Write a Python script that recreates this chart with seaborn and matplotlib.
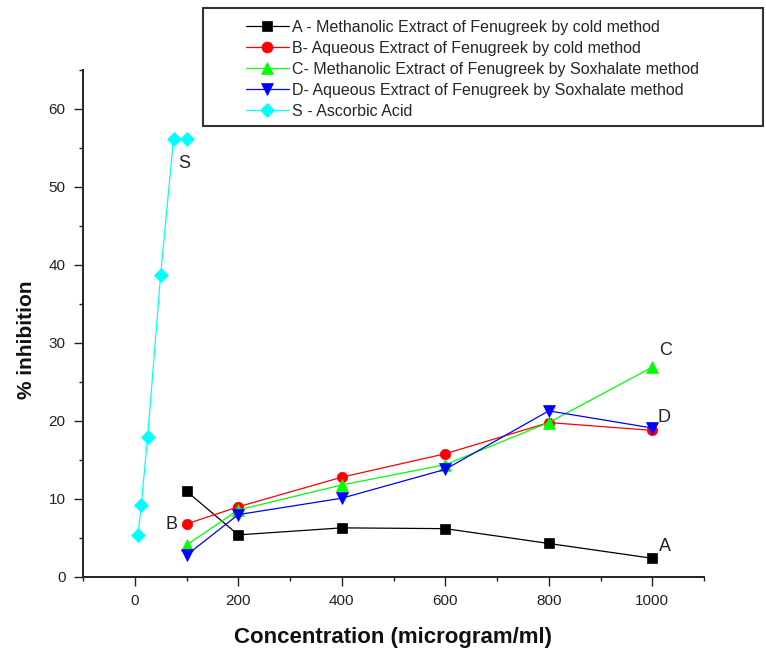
import numpy as np
import pandas as pd
import matplotlib
matplotlib.use("Agg")
import matplotlib.pyplot as plt
from matplotlib.ticker import MultipleLocator
from matplotlib.patches import Rectangle
import seaborn as sns

# % inhibition vs concentration
conc = [100, 200, 400, 600, 800, 1000]
conc_s = [6.25, 12.5, 25, 50, 75, 100]

a_vals = [11.0, 5.4, 6.3, 6.2, 4.3, 2.4]
b_vals = [6.8, 9.0, 12.8, 15.8, 19.8, 18.8]
c_vals = [4.1, 8.6, 11.8, 14.4, 19.8, 26.9]
d_vals = [2.8, 8.0, 10.1, 13.8, 21.3, 19.1]
s_vals = [5.4, 9.2, 18.0, 38.7, 56.2, 56.2]

names = ["A - Methanolic Extract of Fenugreek by cold method",
         "B- Aqueous Extract of Fenugreek by cold method",
         "C- Methanolic Extract of Fenugreek by Soxhalate method",
         "D- Aqueous Extract of Fenugreek by Soxhalate method",
         "S - Ascorbic Acid"]

sns.set_style("ticks")
plt.rcParams['font.family'] = ['Liberation Sans', 'DejaVu Sans']

series = [(conc, a_vals), (conc, b_vals), (conc, c_vals), (conc, d_vals), (conc_s, s_vals)]
colors = ["#000000", "#ff0000", "#00ff00", "#0000ff", "#00ffff"]
markers = ["s", "o", "^", "v", "D"]
msizes = [7, 7.5, 8, 8, 7]

fig = plt.figure(figsize=(7.66, 6.53), dpi=100)
ax = fig.add_axes([83/766, 1-577/653, 621/766, 507/653])

handles = []
for (x, y), col, mk, ms in zip(series, colors, markers, msizes):
    df = pd.DataFrame({"x": x, "y": y})
    sns.lineplot(data=df, x="x", y="y", ax=ax, color=col, marker=mk, markersize=ms,
                 markeredgecolor=col, markeredgewidth=0.5, linewidth=0.9, sort=False)
    handles.append(ax.lines[-1])

# letters next to the curves (offsets in pixels from a data point)
lab_txt = dict(fontsize=13, color="#222222", ha="center", va="baseline",
               textcoords="offset pixels")
ax.annotate("A", (conc[-1], a_vals[-1]), xytext=(13, 7), **lab_txt)
ax.annotate("B", (conc[0], b_vals[0]), xytext=(-15, -5), **lab_txt)
ax.annotate("C", (conc[-1], c_vals[-1]), xytext=(13, 12), **lab_txt)
ax.annotate("D", (conc[-1], d_vals[-1]), xytext=(12, 6), **lab_txt)
ax.annotate("S", (conc_s[-1], s_vals[-1]), xytext=(-2, -29), **lab_txt)

ax.set_xlim(-100, 1100)
ax.set_ylim(0, 65)
ax.set_xticks([0, 200, 400, 600, 800, 1000])
ax.set_yticks([0, 10, 20, 30, 40, 50, 60])
ax.xaxis.set_minor_locator(MultipleLocator(100))
ax.yaxis.set_minor_locator(MultipleLocator(5))
ax.tick_params(which="major", length=6.5, width=1.0, labelsize=11,
               labelcolor="#222222", color="#222222", pad=6)
ax.tick_params(which="minor", length=3, width=1.0, color="#222222")
sns.despine(ax=ax)
for sp in ["left", "bottom"]:
    ax.spines[sp].set_linewidth(1.4)
    ax.spines[sp].set_color("#222222")

ax.set_xlabel("Concentration (microgram/ml)", fontsize=16, fontweight="bold", color="#111111")
ax.set_ylabel("% inhibition", fontsize=15, fontweight="bold", color="#111111")
ax.xaxis.set_label_coords(0.5, -0.099)
ax.yaxis.set_label_coords(-0.076, 0.467)

# legend box sits above the axes in figure space
fig.patches.append(Rectangle((203/766, 1-126/653), 560/766, 118/653,
                             transform=fig.transFigure, fill=False,
                             edgecolor="#333333", linewidth=1.5))
fig.legend(handles, names, loc="upper left", bbox_to_anchor=(245.7/766, 0.9695),
           frameon=False, fontsize=11.5, handlelength=2.7, handletextpad=0.2,
           labelspacing=0.37, borderpad=0, borderaxespad=0, markerscale=1.05)

fig.savefig("out.png", dpi=100)
